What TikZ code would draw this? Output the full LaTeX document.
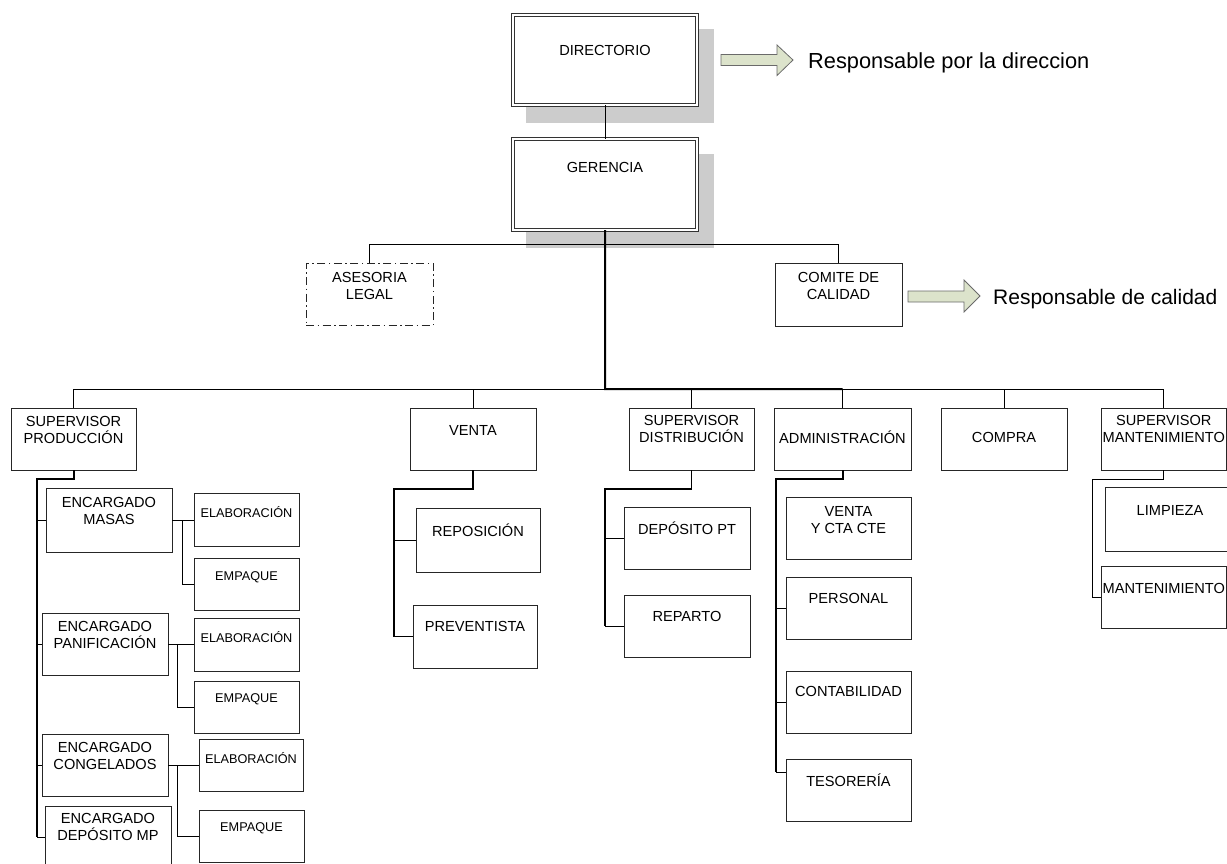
\documentclass[tikz,border=0pt]{standalone}
\usepackage{fontspec}
\setmainfont{Liberation Sans}
\definecolor{arrowfill}{HTML}{DCE3CB}
\definecolor{arrowline}{HTML}{6A6A6A}
\newcommand{\sm}{\fontsize{12.7}{15}\selectfont}
% \obox[style]{name}{x}{y}{w}{h}{text offset}{text}
\newcommand{\obox}[8][]{%
  \node[ob,#1,minimum width=#5pt,minimum height=#6pt,
    label={[lab,yshift=-#7pt]north:{#8}}] (#2) at (#3,#4) {};}
\begin{document}
\begin{tikzpicture}[x=1pt,y=-1pt,
  ob/.style={rectangle,draw=black!85,fill=white,line width=1pt,inner sep=0pt,outer sep=0pt,anchor=north west},
  dbl/.style={draw=black!80,double=white,double distance=2pt,line width=0.9pt},
  dashdot/.style={dash pattern=on 8pt off 3.5pt on 1.5pt off 3.5pt},
  lab/.style={anchor=center,align=center,inner sep=0pt,font=\fontsize{14.6}{17}\selectfont},
  conn/.style={draw=black,line width=1pt},
  midl/.style={draw=black,line width=1.6pt},
  thk/.style={draw=black,line width=2pt},
  shadowbox/.style={fill=black!20,draw=none},
  harrow/.style={draw=arrowline,fill=arrowfill,line width=0.8pt,line join=miter},
  note/.style={anchor=base west,inner sep=0pt}
]
\useasboundingbox (0,0) rectangle (1227,863);
\clip (0,0) rectangle (1227,863);

% shadows
\fill[shadowbox] (526,29) rectangle (714,123);
\fill[shadowbox] (526,154) rectangle (714,248);

% coordinates for trunk lines
\coordinate (hub) at (605,389);
\coordinate (pv) at (37,0);
\coordinate (vv) at (394,0);
\coordinate (dv) at (605,0);
\coordinate (ax) at (776,0);
\coordinate (mx) at (1092,0);

% boxes
\obox[dbl]{dir}{512.9}{14.9}{184.2}{90.2}{36}{DIRECTORIO}
\obox[dbl]{ger}{512.9}{138.9}{184.2}{91.2}{29}{GERENCIA}
\obox[dashdot]{ase}{306}{263}{127}{62}{22.5}{ASESORIA\\LEGAL}
\obox{com}{775}{263}{127}{63}{23}{COMITE DE\\CALIDAD}

\obox{sprod}{11}{408}{125}{62}{22}{SUPERVISOR\\PRODUCCIÓN}
\obox{emasas}{46}{488}{126}{64}{22.5}{ENCARGADO\\MASAS}
\obox{elab1}{194}{493}{105}{53}{19}{\sm ELABORACIÓN}
\obox{emp1}{194}{558}{105}{52}{19}{\sm EMPAQUE}
\obox{epan}{42}{613}{126}{62}{22}{ENCARGADO\\PANIFICACIÓN}
\obox{elab2}{194}{618}{105}{53}{19}{\sm ELABORACIÓN}
\obox{emp2}{194}{681}{105}{52}{18}{\sm EMPAQUE}
\obox{econg}{42}{734}{126}{62}{22}{ENCARGADO\\CONGELADOS}
\obox{elab3}{199}{739}{104}{52}{19}{\sm ELABORACIÓN}
\obox{emp3}{199}{810}{105}{52}{18}{\sm EMPAQUE}
\obox{edep}{45}{806}{126}{62}{21}{ENCARGADO\\DEPÓSITO MP}

\obox{venta}{410}{408}{126}{62}{22}{VENTA}
\obox{repo}{416}{508}{124}{64}{22}{REPOSICIÓN}
\obox{prev}{413}{605}{124}{63}{21}{PREVENTISTA}

\obox{sdist}{629}{408}{125}{62}{21}{SUPERVISOR\\DISTRIBUCIÓN}
\obox{dpt}{624}{507}{126}{62}{21}{DEPÓSITO PT}
\obox{rep}{624}{595}{126}{62}{21.5}{REPARTO}

\obox{adm}{774}{408}{137}{62}{29}{ADMINISTRACIÓN}
\obox{vcta}{786}{497}{125}{62}{23}{VENTA\\Y CTA CTE}
\obox{pers}{786}{577}{125}{62}{21.5}{PERSONAL}
\obox{cont}{786}{671}{125}{62}{20.5}{CONTABILIDAD}
\obox{tes}{786}{759}{125}{62}{21}{TESORERÍA}
\coordinate (ta) at (786,772);

\obox{compra}{941}{408}{126}{62}{29}{COMPRA}

\obox{smant}{1101}{408}{125.5}{62}{21}{SUPERVISOR\\MANTENIMIENTO}
\obox{limp}{1105}{487}{130}{64}{23}{LIMPIEZA}
\obox{mant}{1101}{566}{125.5}{62}{22.5}{MANTENIMIENTO}

% connectors
\draw[conn] (dir.south) -- (ger.north);
\draw[conn] (ase.north) -- ++(0,-19) -| (com.north);
\draw[conn] (sprod.north) -- ++(0,-19) -| (smant.north);
\draw[conn] (venta.north) -- (venta.north |- hub);
\draw[conn] (sdist.north) -- (sdist.north |- hub);
\draw[conn] (adm.north) -- (adm.north |- hub);
\draw[conn] (compra.north) -- (compra.north |- hub);
\draw[thk] (ger.south) -- (hub) -- (adm.north |- hub);

% production
\draw[thk] (sprod.south) -- ++(0,9) -| (edep.west -| pv);
\draw[conn] (emasas.west -| pv) -- (emasas.west);
\draw[conn] (epan.west -| pv) -- (epan.west);
\draw[conn] (econg.west -| pv) -- (econg.west);
\draw[conn] (edep.west -| pv) -- (edep.west);
\draw[conn] (emasas.east) -- (emasas.east -| elab1.west);
\draw[conn] (emasas.east) -- ++(10,0) |- (emp1.west);
\draw[conn] (epan.east) -- (epan.east -| elab2.west);
\draw[conn] (epan.east) -- ++(9,0) |- (emp2.west);
\draw[conn] (econg.east) -- (econg.east -| elab3.west);
\draw[conn] (econg.east) -- ++(9,0) |- (emp3.west);

% venta
\draw[midl] (venta.south) -- ++(0,19) -| (prev.west -| vv);
\draw[conn] (repo.west -| vv) -- (repo.west);
\draw[conn] (prev.west -| vv) -- (prev.west);

% distribucion
\draw[midl] (sdist.south) -- ++(0,19) -| (rep.west -| dv);
\draw[conn] (dpt.west -| dv) -- (dpt.west);
\draw[conn] (rep.west -| dv) -- (rep.west);

% administracion
\draw[thk] (adm.south) -- ++(0,9) -| (ta -| ax);
\draw[conn] (pers.west -| ax) -- (pers.west);
\draw[conn] (cont.west -| ax) -- (cont.west);
\draw[conn] (ta -| ax) -- (ta);

% mantenimiento
\draw[conn] (smant.south) -- ++(0,9) -| (mant.west -| mx) -- (mant.west);

% block arrows and notes
\draw[harrow] (721,54.5) -- (777,54.5) -- (777,45) -- (793,60) -- (777,75.5) -- (777,65.5) -- (721,65.5) -- cycle;
\node[note,font=\fontsize{21.8}{26}\selectfont] (n1) at (808,68) {Responsable por la direccion};
\draw[harrow] (908,291) -- (964,291) -- (964,280) -- (980,296) -- (964,312) -- (964,302) -- (908,302) -- cycle;
\node[note,font=\fontsize{21}{25}\selectfont] (n2) at (993,304) {Responsable de calidad};
\end{tikzpicture}
\end{document}
